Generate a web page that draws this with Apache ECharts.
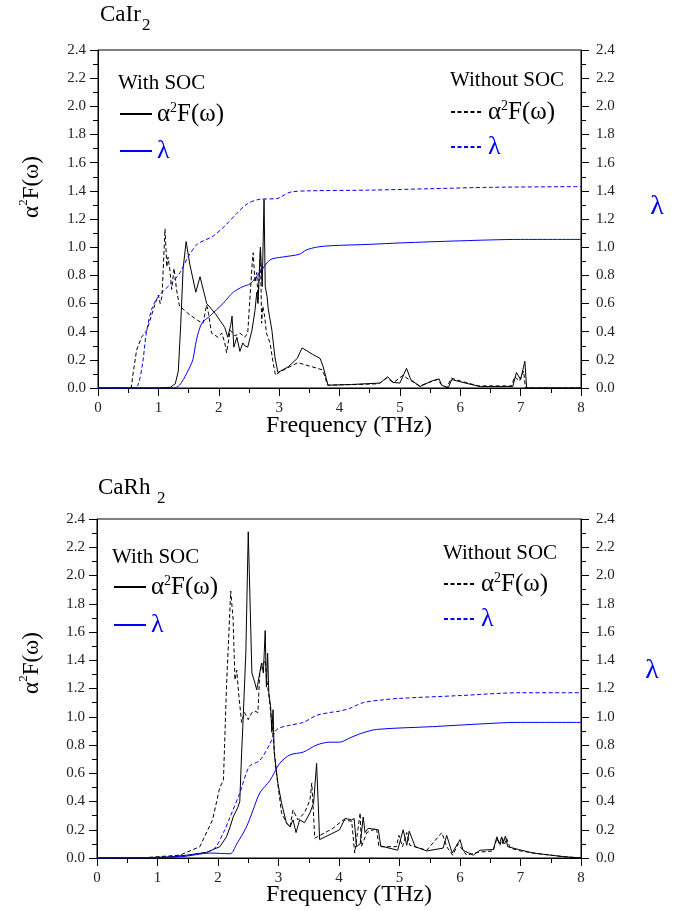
<!DOCTYPE html>
<html>
<head>
<meta charset="utf-8">
<script src="https://cdn.jsdelivr.net/npm/echarts@6/dist/echarts.min.js"></script>
<style>
  html, body { margin: 0; background: #fff; }
  #chart { width: 679px; height: 911px; }
</style>
</head>
<body>
<div id="chart"></div>
<script>
// 坐标范围 (两图相同)
const freqRange = [0, 8]
const yRange = [0, 2.4]

// CaIr2 —— [频率 THz, 值]
const irSocA2F = [[0,0],[1.0,0],[1.2,0.005],[1.28,0.03],[1.33,0.12],[1.37,0.45],[1.41,0.85],[1.46,1.04],[1.52,0.88],[1.62,0.68],[1.69,0.79],[1.80,0.60],[1.94,0.53],[2.10,0.43],[2.15,0.36],[2.20,0.45],[2.22,0.51],[2.25,0.29],[2.30,0.36],[2.35,0.26],[2.40,0.32],[2.43,0.30],[2.48,0.29],[2.55,0.41],[2.60,0.55],[2.63,0.68],[2.65,0.60],[2.69,1.00],[2.72,0.72],[2.75,1.34],[2.77,0.72],[2.80,0.65],[2.82,0.56],[2.88,0.41],[2.93,0.22],[2.98,0.11],[3.01,0.105],[3.15,0.15],[3.30,0.21],[3.38,0.285],[3.55,0.24],[3.68,0.21],[3.70,0.22],[3.73,0.15],[3.81,0.02],[4.2,0.025],[4.67,0.035],[4.80,0.08],[4.88,0.04],[5.0,0.035],[5.11,0.14],[5.18,0.06],[5.33,0.01],[5.53,0.05],[5.65,0.065],[5.69,0.02],[5.80,0.0],[5.86,0.06],[5.99,0.045],[6.33,0.01],[6.87,0.01],[6.93,0.11],[7.0,0.06],[7.07,0.19],[7.1,0.0],[8,0]]
const irNoA2F = [[0,0],[0.55,0],[0.58,0.1],[0.64,0.27],[0.72,0.36],[0.81,0.41],[0.94,0.59],[1.0,0.66],[1.03,0.60],[1.06,0.65],[1.11,1.13],[1.14,0.86],[1.16,0.93],[1.19,0.84],[1.22,0.70],[1.26,0.85],[1.30,0.70],[1.35,0.58],[1.41,0.56],[1.49,0.53],[1.65,0.48],[1.74,0.46],[1.80,0.59],[1.83,0.53],[1.88,0.39],[1.99,0.36],[2.05,0.39],[2.10,0.32],[2.13,0.25],[2.19,0.41],[2.27,0.37],[2.35,0.39],[2.43,0.36],[2.48,0.39],[2.55,0.86],[2.57,0.96],[2.60,0.75],[2.63,0.82],[2.65,0.63],[2.69,0.98],[2.71,0.46],[2.73,0.58],[2.76,0.51],[2.79,0.39],[2.85,0.32],[2.90,0.18],[2.94,0.09],[3.01,0.115],[3.31,0.18],[3.71,0.13],[3.76,0.08],[3.80,0.02],[4.3,0.025],[4.65,0.03],[4.78,0.07],[4.9,0.04],[5.05,0.09],[5.15,0.06],[5.33,0.015],[5.55,0.05],[5.62,0.06],[5.7,0.02],[5.78,0.005],[5.85,0.07],[6.0,0.05],[6.3,0.015],[6.85,0.015],[6.9,0.08],[6.98,0.05],[7.05,0.12],[7.08,0.0],[8,0]]
const irSocLam = [[0,0],[1.25,0],[1.35,0.02],[1.47,0.105],[1.57,0.2],[1.63,0.34],[1.72,0.46],[1.85,0.51],[2.07,0.60],[2.24,0.68],[2.40,0.72],[2.52,0.74],[2.68,0.82],[2.85,0.91],[3.06,0.93],[3.34,0.95],[3.45,0.98],[3.62,1.00],[3.84,1.01],[4.5,1.02],[5.0,1.03],[6.0,1.045],[7.0,1.055],[8,1.055]]
const irNoLam = [[0,0],[0.56,0],[0.66,0.02],[0.74,0.18],[0.80,0.39],[0.89,0.56],[1.0,0.65],[1.23,0.75],[1.36,0.82],[1.49,0.93],[1.64,1.02],[1.77,1.05],[1.91,1.08],[2.10,1.15],[2.30,1.24],[2.48,1.31],[2.68,1.34],[2.96,1.345],[3.18,1.39],[3.51,1.40],[4.5,1.405],[5.5,1.415],[6.5,1.425],[8,1.43]]

// CaRh2
const rhSocA2F = [[0,0],[0.8,0.002],[1.2,0.008],[1.48,0.02],[1.81,0.04],[2.03,0.08],[2.14,0.15],[2.20,0.22],[2.25,0.29],[2.33,0.36],[2.36,0.40],[2.39,0.74],[2.41,0.93],[2.46,1.45],[2.50,2.31],[2.56,1.31],[2.61,1.24],[2.64,1.19],[2.69,1.31],[2.72,1.38],[2.75,1.31],[2.78,1.61],[2.80,1.21],[2.82,1.45],[2.84,1.17],[2.87,1.07],[2.89,0.89],[2.91,1.05],[2.93,0.74],[2.99,0.53],[3.05,0.39],[3.13,0.25],[3.19,0.22],[3.24,0.27],[3.29,0.18],[3.35,0.27],[3.43,0.25],[3.52,0.32],[3.58,0.39],[3.63,0.67],[3.68,0.13],[4.01,0.2],[4.10,0.28],[4.21,0.27],[4.25,0.28],[4.29,0.08],[4.35,0.10],[4.40,0.29],[4.43,0.18],[4.48,0.21],[4.65,0.20],[4.69,0.085],[4.97,0.055],[5.06,0.2],[5.12,0.09],[5.16,0.19],[5.26,0.08],[5.45,0.05],[5.72,0.07],[5.78,0.16],[5.87,0.035],[6.0,0.13],[6.05,0.055],[6.22,0.02],[6.33,0.055],[6.55,0.06],[6.61,0.15],[6.65,0.10],[6.69,0.15],[6.71,0.10],[6.75,0.155],[6.79,0.08],[6.97,0.06],[7.21,0.035],[7.7,0.01],[8,0.0]]
const rhNoA2F = [[0,0],[0.8,0.003],[1.37,0.02],[1.70,0.08],[1.91,0.27],[2.03,0.50],[2.09,0.55],[2.14,1.21],[2.19,1.69],[2.21,1.89],[2.25,1.69],[2.28,1.26],[2.31,1.33],[2.34,1.17],[2.39,0.96],[2.44,1.03],[2.50,0.98],[2.56,1.03],[2.61,1.04],[2.66,1.03],[2.69,1.31],[2.72,1.36],[2.78,1.40],[2.80,1.28],[2.85,1.12],[2.91,0.86],[2.96,0.62],[3.05,0.32],[3.13,0.25],[3.19,0.22],[3.24,0.34],[3.32,0.27],[3.43,0.32],[3.52,0.41],[3.55,0.53],[3.60,0.14],[3.9,0.21],[4.07,0.27],[4.21,0.26],[4.26,0.035],[4.35,0.32],[4.37,0.08],[4.46,0.18],[4.62,0.21],[4.66,0.08],[4.95,0.08],[4.99,0.16],[5.05,0.08],[5.12,0.18],[5.17,0.09],[5.45,0.055],[5.70,0.18],[5.78,0.08],[5.88,0.02],[5.97,0.10],[6.11,0.02],[6.28,0.04],[6.55,0.05],[6.61,0.14],[6.66,0.09],[6.70,0.14],[6.74,0.10],[6.77,0.14],[6.83,0.07],[7.0,0.05],[7.3,0.03],[7.7,0.01],[8,0]]
const rhSocLam = [[0,0],[1.0,0.003],[1.42,0.01],[1.87,0.035],[2.2,0.03],[2.31,0.1],[2.47,0.22],[2.58,0.34],[2.69,0.46],[2.86,0.55],[3.02,0.67],[3.19,0.73],[3.41,0.75],[3.63,0.80],[3.85,0.82],[4.01,0.82],[4.18,0.85],[4.35,0.88],[4.62,0.91],[5.55,0.93],[6.38,0.95],[6.94,0.96],[8,0.96]]
const rhNoLam = [[0,0],[1.0,0.003],[1.53,0.02],[1.92,0.06],[2.09,0.18],[2.2,0.29],[2.36,0.46],[2.52,0.65],[2.69,0.69],[2.86,0.81],[2.97,0.91],[3.19,0.94],[3.41,0.96],[3.63,1.01],[3.85,1.03],[4.01,1.04],[4.18,1.06],[4.4,1.10],[4.73,1.12],[5.0,1.13],[6.0,1.15],[7.0,1.17],[8,1.17]]

const serif = '"Liberation Serif", "Times New Roman", serif'
const blue = '#0000ff'
const a2fText = '{a|α}{s|2}{a|F(ω)}'

const chart = echarts.init(document.getElementById('chart'))

const tickLabel = { fontFamily: serif, fontSize: 15, color: '#222' }

const xAxisOf = (gridIndex) => ({
    type: 'value',
    gridIndex,
    min: freqRange[0],
    max: freqRange[1],
    interval: 1,
    axisLine: { lineStyle: { color: '#000', width: 1 } },
    axisTick: { length: 8, lineStyle: { color: '#000' } },
    minorTick: { show: true, splitNumber: 2, length: 5, lineStyle: { color: '#000' } },
    axisLabel: { ...tickLabel, margin: 13 },
    splitLine: { show: false }
})

const yAxisOf = (gridIndex, position) => ({
    type: 'value',
    gridIndex,
    position,
    min: yRange[0],
    max: yRange[1],
    interval: 0.2,
    axisLine: { show: true, lineStyle: { color: '#000', width: 1 } },
    axisTick: { show: true, length: 8, lineStyle: { color: '#000' } },
    minorTick: { show: true, splitNumber: 2, length: 5, lineStyle: { color: '#000' } },
    axisLabel: { ...tickLabel, margin: position === 'right' ? 15 : 12, formatter: v => v.toFixed(1) },
    splitLine: { show: false }
})

// 单条曲线
const lineOf = (name, data, gridIndex, isLam, dashed) => ({
    name,
    type: 'line',
    data,
    xAxisIndex: gridIndex,
    yAxisIndex: gridIndex * 2 + (isLam ? 1 : 0),
    symbol: 'none',
    smooth: isLam ? 0.3 : false,
    color: isLam ? blue : '#000',
    lineStyle: { color: isLam ? blue : '#000', width: 1, type: dashed ? [4, 2.5] : 'solid' },
    z: 3
})

const legendRich = {
    a: { fontFamily: serif, fontSize: 25, color: '#000', lineHeight: 26, verticalAlign: 'bottom' },
    s: { fontFamily: serif, fontSize: 14, color: '#000', lineHeight: 12, verticalAlign: 'top' },
    l: { fontFamily: serif, fontSize: 26, color: blue, lineHeight: 26, verticalAlign: 'bottom' }
}

const legendOf = (left, top, gap, names) => ({
    left,
    top,
    padding: 0,
    orient: 'vertical',
    itemWidth: 32,
    itemHeight: 12,
    itemGap: gap,
    selectedMode: false,
    // 图例只画线, 不画圆点
    itemStyle: { opacity: 0 },
    data: names,
    formatter: name => (name.indexOf('Lam') > -1 ? '{l|λ}' : a2fText),
    textStyle: { rich: legendRich }
})

const textOf = (x, y, text, extra) => ({
    type: 'text',
    x,
    y,
    silent: true,
    style: { text, fontFamily: serif, fontSize: 21, fill: '#000', verticalAlign: 'middle', ...extra }
})

const yTitleOf = (x, y) => ({
    type: 'text',
    x,
    y,
    rotation: Math.PI / 2,
    silent: true,
    style: {
        text: a2fText,
        align: 'center',
        verticalAlign: 'middle',
        rich: {
            a: { fontFamily: serif, fontSize: 23, fill: '#000', lineHeight: 26, verticalAlign: 'bottom' },
            s: { fontFamily: serif, fontSize: 13, fill: '#000', lineHeight: 12, verticalAlign: 'top' }
        }
    }
})

const option = {
    animation: false,
    backgroundColor: '#fff',
    grid: [
        { left: 98, top: 50, width: 483, height: 338, show: true, borderColor: '#000', borderWidth: 1 },
        { left: 97, top: 519, width: 484, height: 339, show: true, borderColor: '#000', borderWidth: 1 }
    ],
    xAxis: [xAxisOf(0), xAxisOf(1)],
    yAxis: [yAxisOf(0, 'left'), yAxisOf(0, 'right'), yAxisOf(1, 'left'), yAxisOf(1, 'right')],
    legend: [
        legendOf(119, 101, 11, ['irSocA2F', 'irSocLam']),
        legendOf(450, 99, 9, ['irNoA2F', 'irNoLam']),
        legendOf(113, 574, 12, ['rhSocA2F', 'rhSocLam']),
        legendOf(443, 571, 9, ['rhNoA2F', 'rhNoLam'])
    ],
    graphic: [
        // 标题
        textOf(100, 14.5, 'CaIr', { fontSize: 23 }),
        textOf(142, 26, '2', { fontSize: 17 }),
        textOf(98, 488, 'CaRh', { fontSize: 23 }),
        textOf(157, 499, '2', { fontSize: 17 }),
        // 图例标题
        textOf(118, 83, 'With SOC'),
        textOf(450, 80, 'Without SOC'),
        textOf(112, 557, 'With SOC'),
        textOf(443, 553, 'Without SOC'),
        // 坐标轴名称
        textOf(349, 426, 'Frequency (THz)', { fontSize: 24, align: 'center' }),
        textOf(349, 895, 'Frequency (THz)', { fontSize: 24, align: 'center' }),
        yTitleOf(30, 187),
        yTitleOf(30, 663),
        textOf(657, 207, 'λ', { fontSize: 28, fill: blue, align: 'center' }),
        textOf(652, 671, 'λ', { fontSize: 28, fill: blue, align: 'center' })
    ],
    series: [
        lineOf('irNoA2F', irNoA2F, 0, false, true),
        lineOf('irSocA2F', irSocA2F, 0, false, false),
        lineOf('irNoLam', irNoLam, 0, true, true),
        lineOf('irSocLam', irSocLam, 0, true, false),
        lineOf('rhNoA2F', rhNoA2F, 1, false, true),
        lineOf('rhSocA2F', rhSocA2F, 1, false, false),
        lineOf('rhNoLam', rhNoLam, 1, true, true),
        lineOf('rhSocLam', rhSocLam, 1, true, false)
    ]
}

chart.setOption(option)
</script>
</body>
</html>
